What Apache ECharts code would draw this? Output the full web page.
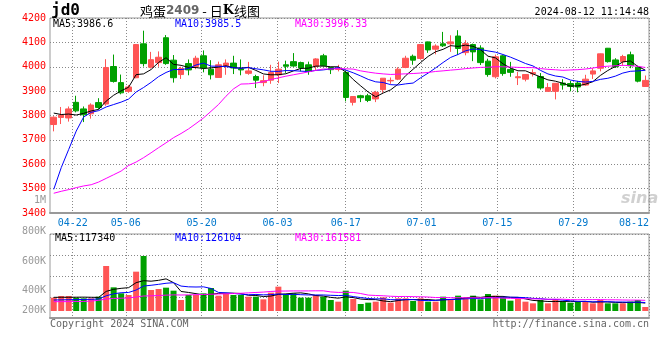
<!DOCTYPE html>
<html><head><meta charset="utf-8">
<script src="https://cdn.jsdelivr.net/npm/echarts@6/dist/echarts.min.js"></script>
<style>html,body{margin:0;padding:0;background:#fff}#c{width:660px;height:360px}</style>
</head><body><div id="c"></div>
<script>
const dates = ['04-17','04-18','04-19','04-22','04-23','04-24','04-25','04-26','04-29','04-30',
'05-06','05-07','05-08','05-09','05-10','05-13','05-14','05-15','05-16','05-17',
'05-20','05-21','05-22','05-23','05-24','05-27','05-28','05-29','05-30','05-31',
'06-03','06-04','06-05','06-06','06-07','06-11','06-12','06-13','06-14','06-17',
'06-18','06-19','06-20','06-21','06-24','06-25','06-26','06-27','06-28','07-01',
'07-02','07-03','07-04','07-05','07-08','07-09','07-10','07-11','07-12','07-15',
'07-16','07-17','07-18','07-19','07-22','07-23','07-24','07-25','07-26','07-29',
'07-30','07-31','08-01','08-02','08-05','08-06','08-07','08-08','08-09','08-12'];
const labelIdx = [3,10,20,30,39,49,59,69,79];

const open = [3763,3792,3790,3854,3827,3807,3853,3847,4001,3935,3899,3955,4094,3998,4017,4119,4027,3968,4013,4001,4045,3990,3956,4004,4015,3991,3973,3960,3935,3945,3967,4008,4021,4017,4008,4001,4045,3997,3989,3977,3854,3881,3881,3868,3906,3942,3949,3997,4043,4034,4102,4072,4094,4094,4126,4058,4091,4077,4023,3959,4045,3989,3955,3949,3971,3960,3899,3899,3933,3931,3933,3925,3970,3994,4076,4028,4021,4049,3998,3919];
const close = [3793,3802,3827,3819,3803,3843,3833,3997,3940,3893,3917,4091,4013,4029,4039,4013,3955,3993,3987,4035,3995,3967,4008,4015,3995,3987,3983,3945,3943,3976,3990,4002,4003,3995,3981,4032,4004,3988,3994,3874,3878,3873,3862,3895,3953,3944,3990,4035,4027,4091,4069,4085,4086,4102,4075,4095,4061,4017,3968,4041,3972,3977,3959,3968,3976,3913,3915,3932,3925,3919,3917,3949,3983,4053,4021,4000,4042,4004,3941,3944];
const low = [3735,3765,3775,3813,3773,3787,3827,3840,3935,3887,3893,3953,4001,3993,4000,4008,3935,3950,3965,3990,3977,3948,3956,3967,3970,3965,3967,3913,3920,3930,3933,3975,4000,3981,3967,3987,4001,3970,3981,3858,3841,3855,3855,3855,3893,3930,3945,3994,4008,4029,4057,4051,4081,4061,4048,4047,4023,4007,3959,3952,3963,3959,3925,3940,3960,3906,3898,3866,3906,3899,3895,3922,3950,3981,4017,3995,4004,3994,3936,3919];
const high = [3797,3835,3837,3881,3837,3850,3871,4031,4050,3968,3925,4093,4148,4061,4063,4130,4048,4000,4030,4045,4067,4027,4021,4030,4045,4030,4020,3967,3965,4008,4021,4025,4056,4021,4021,4035,4053,3998,4008,3985,3879,3885,3889,3901,3953,3956,3998,4045,4050,4093,4103,4092,4143,4129,4150,4109,4095,4088,4033,4050,4048,4020,3979,3970,3990,3974,3933,3933,3949,3942,3942,3967,3994,4054,4077,4035,4049,4062,4004,3964];

const ma5 = [3810,3804,3806,3802,3808.8,3818.8,3825.0,3859.0,3883.2,3901.2,3916.0,3967.6,3970.8,3988.6,4017.8,4037.0,4009.8,4005.8,3997.4,3996.6,3993.0,3995.4,3998.4,4004.0,3996.0,3994.4,3997.6,3985.0,3970.6,3966.8,3967.4,3971.2,3982.8,3993.2,3994.2,4002.6,4003.0,4000.0,3999.8,3978.4,3947.6,3921.4,3896.2,3876.4,3892.2,3905.4,3928.8,3963.4,3989.8,4017.4,4042.4,4061.4,4071.6,4086.6,4083.4,4088.6,4083.8,4070.0,4043.2,4036.4,4011.8,3995.0,3983.4,3983.4,3970.4,3958.6,3946.2,3940.8,3932.2,3920.8,3921.6,3928.4,3938.6,3964.2,3984.6,4001.2,4019.8,4024.0,4001.6,3986.2];
const ma10 = [3497,3586,3661,3736,3794,3813,3820,3835,3845,3855.0,3867.4,3896.3,3914.9,3935.9,3959.5,3976.5,3988.7,3988.3,3993.0,4007.2,4015.0,4002.6,4002.1,4000.7,3996.3,3993.7,3996.5,3991.7,3987.3,3981.4,3980.9,3984.4,3983.9,3981.9,3980.5,3985.0,3987.1,3991.4,3996.5,3986.3,3975.1,3962.2,3948.1,3938.1,3935.3,3926.5,3925.1,3929.8,3933.1,3954.8,3973.9,3995.1,4017.5,4038.2,4050.4,4065.5,4072.6,4070.8,4064.9,4059.9,4050.2,4039.4,4026.7,4013.3,4003.4,3985.2,3970.6,3962.1,3957.8,3945.6,3940.1,3937.3,3939.7,3948.2,3952.7,3961.4,3974.1,3981.3,3982.9,3985.4];
const ma30 = [3481,3489,3496,3504,3511,3516,3527,3542,3557,3572,3595,3609,3627,3647,3668,3688,3709,3726,3745,3767,3790,3817,3845,3879,3909,3929,3930,3933,3939,3947.9,3954.4,3961.1,3967.0,3972.8,3978.8,3985.1,3990.8,3990.5,3992.3,3991.6,3990.3,3983.1,3978.0,3973.6,3970.7,3968.4,3969.6,3971.0,3972.3,3974.2,3976.6,3980.6,3983.2,3986.1,3988.7,3992.3,3994.9,3997.3,3998.2,4000.3,3999.7,3998.9,3997.4,3996.5,3996.4,3992.4,3989.4,3987.6,3985.3,3986.8,3988.1,3990.6,3994.6,3999.9,4002.2,4004.0,4005.8,4004.7,4001.9,3997.0];

// volume in thousands of lots
const volumeK = [200,225,225,200,190,190,215,675,355,265,240,590,825,315,330,350,305,165,240,240,265,345,230,255,240,240,215,215,175,275,365,255,265,200,200,240,215,165,140,305,180,105,125,140,205,125,190,190,150,190,140,140,215,180,230,205,230,175,255,230,205,155,180,140,115,165,115,180,140,125,140,140,115,165,115,115,115,140,165,60];
const vma5 = [205,206,206,207,208,206,204,294,325,340,350,425,455,447,460,482,425,293,278,260,243,251,264,267,267,262,236,233,217,224,249,257,267,272,257,232,224,204,192,213,201,179,171,171,151,140,157,170,172,169,172,162,167,173,181,194,212,204,219,219,219,204,205,182,159,151,143,143,143,145,140,145,132,137,135,130,125,130,130,119];
const vma10 = [165,167,169,171,173,175,180,228,258,274,278,314.5,374.5,386,400,416,425,374,362.5,360,362.5,338,278.5,272.5,263.5,252.5,243.5,248.5,242,245.5,255.5,246.5,250,244.5,240.5,240.5,240.5,235.5,232,235,216.5,201.5,187.5,181.5,182,170.5,168,170.5,171.5,160,156,159.5,168.5,172.5,175,183,187,185.5,196,200,206.5,208,204.5,200.5,189,185,173.5,174,162.5,152,145.5,144,137.5,140,140,135,135,131,133.5,127];
const vma30 = [140,140,141,142,143,150,160,180,188,192,196,210,225,228,232,238,242,240,242,245,248,252,255,258,262,266,272,278,284,293.2,298.7,299.7,301,301,301.3,303,303,286,278.8,280.2,278.2,262,238.7,232.8,228.7,221.2,217.3,218.2,215.2,213.5,209.3,202.5,202,199.5,199.2,198,198.5,197.2,199.8,198.3,193,189.7,186.8,184.8,182,179.5,176.2,176.7,176.7,170.7,169.3,170.5,170.2,171,168,167.7,165.2,163.5,164,159.7];

const volLabels = ['1M','800K','600K','400K','200K'];
const legendMain = ['MA5:3986.6','MA10:3985.5','MA30:3996.33'];
const legendVol = ['MA5:117340','MA10:126104','MA30:161581'];

const MONO = '"DejaVu Sans Mono","Liberation Mono",monospace';
const RED = '#FF5555', GREEN = '#00A000';
const GRIDLINE = {color:'#888', type:[1,2], width:1};

const chart = echarts.init(document.getElementById('c'), null, {renderer:'canvas', width:660, height:360});
function txt(text, x, y, fill, font, align) {
  return {type:'text', x:x, y:y, silent:true, z:50,
    style:{text:text, fill:fill, font:font, textAlign:align||'left', textVerticalAlign:'middle'}};
}
const volLabelY = [200, 231, 261, 290, 310];
const graphics = [
  txt('jd0', 51, 11, '#000', 'bold 16px ' + MONO),
  {type:'text', x:200, y:11, z:50, silent:true, style:{
    text:'{a|鸡蛋}{b|2409}{a| - 日}{k|K}{a|线图}', textAlign:'center', textVerticalAlign:'middle',
    rich:{a:{fontSize:13, fontFamily:'"Noto Sans CJK SC"', fill:'#000'},
          b:{fontSize:12, fontWeight:'bold', fontFamily:'"DejaVu Sans"', fill:'#666'},
          k:{fontSize:13, fontWeight:'bold', fontFamily:'"DejaVu Serif"', fill:'#000'}}}},
  txt('2024-08-12 11:14:48', 649, 12, '#000', '10px ' + MONO, 'right'),
  txt(legendMain[0], 53, 24, '#000', '10px ' + MONO),
  txt(legendMain[1], 175, 24, '#0000FF', '10px ' + MONO),
  txt(legendMain[2], 295, 24, '#FF00FF', '10px ' + MONO),
  txt(legendVol[0], 55, 238, '#000', '10px ' + MONO),
  txt(legendVol[1], 175, 238, '#0000FF', '10px ' + MONO),
  txt(legendVol[2], 295, 238, '#FF00FF', '10px ' + MONO),
  txt('Copyright 2024 SINA.COM', 50, 324, '#666', '10px ' + MONO),
  txt('http://finance.sina.com.cn', 649, 324, '#666', '10px ' + MONO, 'right'),
  txt('sina', 621, 199, 'rgba(170,170,170,0.55)', 'italic bold 16px "DejaVu Sans"')
];
volLabels.forEach((t, i) => graphics.push(txt(t, 46, volLabelY[i], '#999', '10px ' + MONO, 'right')));

const option = {
  animation:false,
  backgroundColor:'#fff',
  grid:[
    {left:50, top:18, width:599, height:195, show:true, borderColor:'#999', borderWidth:1},
    {left:50, top:234, width:599, height:84, show:true, borderColor:'#999', borderWidth:1}
  ],
  xAxis:[
    {type:'category', gridIndex:0, data:dates, boundaryGap:true, show:false},
    {type:'value', gridIndex:0, position:'bottom', min:0, max:dates.length-1,
      axisLine:{show:true, onZero:false, lineStyle:{color:'#999', width:2}},
      axisTick:{show:false, customValues:labelIdx},
      axisLabel:{customValues:labelIdx, formatter:v=>dates[v], color:'#0077CC', fontFamily:MONO, fontSize:10, margin:5, alignMaxLabel:'right'},
      splitLine:{show:true, lineStyle:GRIDLINE}},
    {type:'category', gridIndex:1, data:dates, boundaryGap:true, show:false},
    {type:'value', gridIndex:1, position:'bottom', min:0, max:dates.length-1,
      axisLine:{show:true, onZero:false, lineStyle:{color:'#999', width:2}},
      axisTick:{show:false, customValues:labelIdx},
      axisLabel:{show:false, customValues:labelIdx},
      splitLine:{show:true, lineStyle:GRIDLINE}}
  ],
  yAxis:[
    {type:'value', gridIndex:0, min:3400, max:4200, interval:100,
      axisLine:{show:false}, axisTick:{show:false},
      axisLabel:{color:'#FF0000', fontFamily:MONO, fontSize:10, margin:4, formatter:v=>String(v)},
      splitLine:{show:true, lineStyle:GRIDLINE}},
    {type:'value', gridIndex:1, min:-105, max:1155, show:false},
    {type:'value', gridIndex:1, min:0, max:4, interval:1,
      axisLine:{show:false}, axisTick:{show:false}, axisLabel:{show:false},
      splitLine:{show:true, lineStyle:GRIDLINE}}
  ],
  graphic:graphics,
  series:[
    {type:'candlestick', xAxisIndex:0, yAxisIndex:0, barWidth:6,
      data:dates.map((d,i)=>[open[i], close[i], low[i], high[i]]),
      itemStyle:{color:RED, color0:GREEN, borderColor:RED, borderColor0:GREEN, borderWidth:1}},
    {type:'line', xAxisIndex:0, yAxisIndex:0, data:ma5, symbol:'none', lineStyle:{color:'#000', width:1}, z:4},
    {type:'line', xAxisIndex:0, yAxisIndex:0, data:ma10, symbol:'none', lineStyle:{color:'#0000FF', width:1}, z:4},
    {type:'line', xAxisIndex:0, yAxisIndex:0, data:ma30, symbol:'none', lineStyle:{color:'#FF00FF', width:1}, z:4},
    {type:'bar', xAxisIndex:2, yAxisIndex:1, barWidth:6, data:volumeK,
      itemStyle:{color:p => close[p.dataIndex] > open[p.dataIndex] ? RED : GREEN}},
    {type:'line', xAxisIndex:2, yAxisIndex:1, data:vma5, symbol:'none', lineStyle:{color:'#000', width:1}, z:4},
    {type:'line', xAxisIndex:2, yAxisIndex:1, data:vma10, symbol:'none', lineStyle:{color:'#0000FF', width:1}, z:4},
    {type:'line', xAxisIndex:2, yAxisIndex:1, data:vma30, symbol:'none', lineStyle:{color:'#FF00FF', width:1}, z:4}
  ]
};
chart.setOption(option);
</script></body></html>
